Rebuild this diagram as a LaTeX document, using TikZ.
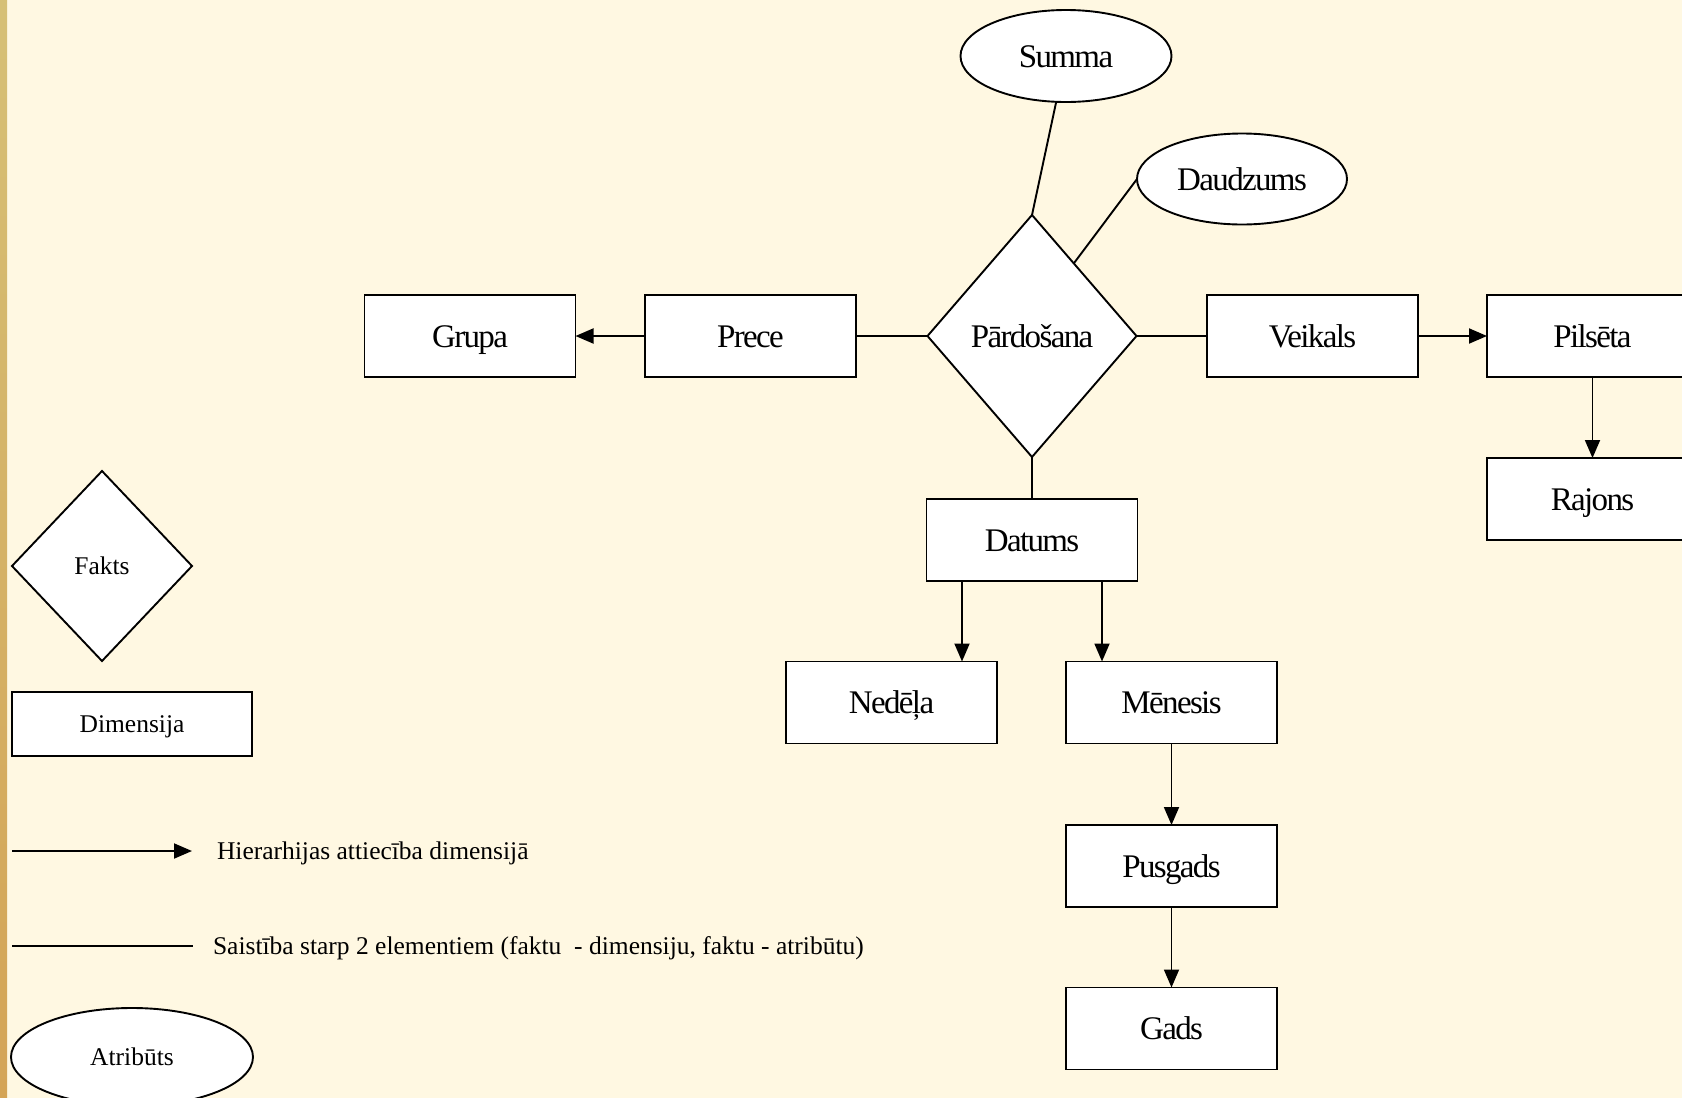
\documentclass[tikz,border=0pt]{standalone}
\usepackage{fontspec}
\setmainfont{Liberation Serif}
\usetikzlibrary{shapes.geometric,arrows.meta,calc}

\definecolor{paper}{RGB}{255,248,226}
\definecolor{stripetop}{RGB}{214,192,118}
\definecolor{stripebot}{RGB}{212,164,86}

\newcommand{\bigfont}{\fontsize{33}{36}\selectfont\addfontfeatures{LetterSpace=-5}}
\newcommand{\smallfont}{\fontsize{25.5}{28}\selectfont}

\tikzset{
  x=1pt, y=-1pt,
  every node/.style={inner sep=0pt, outer sep=0pt},
  dimbox/.style={draw, fill=white, line width=1.9pt, minimum width=211pt,
    minimum height=82pt, font=\bigfont, text height=22pt, text depth=0pt},
  factbox/.style={draw, fill=white, line width=1.9pt, diamond, aspect=0.86,
    minimum width=209pt, minimum height=242pt, font=\bigfont,
    text height=22pt, text depth=0pt},
  attrbox/.style={draw, fill=white, line width=1.9pt, ellipse,
    minimum width=211pt, minimum height=92pt, font=\bigfont,
    text height=22pt, text depth=0pt},
  link/.style={line width=1.9pt},
  hier/.style={line width=1.9pt, -{Triangle[length=18pt,width=15pt]}},
  legtext/.style={font=\smallfont, text height=16.8pt, text depth=0pt}
}

\begin{document}
\begin{tikzpicture}
  % page, background and left stripe
  \useasboundingbox (0,0) rectangle (1682,1098);
  \clip (0,0) rectangle (1682,1098);
  \fill[paper] (0,0) rectangle (1682,1098);
  \shade[top color=stripetop, bottom color=stripebot] (0,0) rectangle (7,1098);

  % fact and its attributes
  \node[factbox] (pard) at (1032,336) {Pārdošana};
  \node[attrbox] (summa) at (1066,56) {Summa};
  \node[attrbox, minimum width=210pt, minimum height=91pt] (daudz) at (1242,179) {Daudzums};

  % product dimension
  \node[dimbox] (prece) at (750.5,336) {Prece};
  \node[dimbox] (grupa) at (470,336) {Grupa};

  % shop dimension
  \node[dimbox] (veik) at (1312.5,336) {Veikals};
  \node[dimbox] (pils) at (1592.5,336) {Pilsēta};
  \node[dimbox] (raj) at (1592.5,499) {Rajons};

  % date dimension
  \node[dimbox] (dat) at (1032,540) {Datums};
  \node[dimbox] (ned) at (891.5,702.5) {Nedēļa};
  \node[dimbox] (men) at (1171.5,702.5) {Mēnesis};
  \node[dimbox] (pusg) at (1171.5,866) {Pusgads};
  \node[dimbox] (gads) at (1171.5,1028.5) {Gads};

  % connections
  \draw[link] (summa) -- (pard.north);
  \draw[link] (daudz.west) -- ($(pard.north)!0.4!(pard.east)$);
  \draw[link] (prece.east) -- (pard.west);
  \draw[link] (pard.east) -- (veik.west);
  \draw[link] (pard.south) -- (dat.north);
  \draw[hier] (prece.west) -- (grupa.east);
  \draw[hier] (veik.east) -- (pils.west);
  \draw[hier] (pils.south) -- (raj.north);
  \coordinate (dn) at ([xshift=-70pt]dat.south);
  \coordinate (dm) at ([xshift=70pt]dat.south);
  \draw[hier] (dn) -- (dn |- ned.north);
  \draw[hier] (dm) -- (dm |- men.north);
  \draw[hier] (men.south) -- (pusg.north);
  \draw[hier] (pusg.south) -- (gads.north);

  % legend
  \node[draw, fill=white, line width=1.9pt, diamond, aspect=0.95,
    minimum width=180pt, minimum height=190pt, legtext] (lfakt) at (102,566) {Fakts};
  \node[draw, fill=white, line width=1.9pt, minimum width=240pt,
    minimum height=64pt, legtext] (ldim) at (132,724) {Dimensija};
  \coordinate (ha) at (12,851);
  \coordinate (hb) at (192,851);
  \draw[hier] (ha) -- (hb);
  \node[legtext, anchor=west] (lhier) at (217,851) {Hierarhijas attiecība dimensijā};
  \coordinate (sa) at (12,946);
  \coordinate (sb) at (193,946);
  \draw[link] (sa) -- (sb);
  \node[legtext, anchor=west] (lsaist) at (213,946)
    {Saistība starp 2 elementiem (faktu\ \ - dimensiju, faktu - atribūtu)};
  \node[draw, fill=white, line width=1.9pt, ellipse, minimum width=242pt,
    minimum height=98pt, legtext] (lattr) at (132,1057) {Atribūts};
\end{tikzpicture}
\end{document}
